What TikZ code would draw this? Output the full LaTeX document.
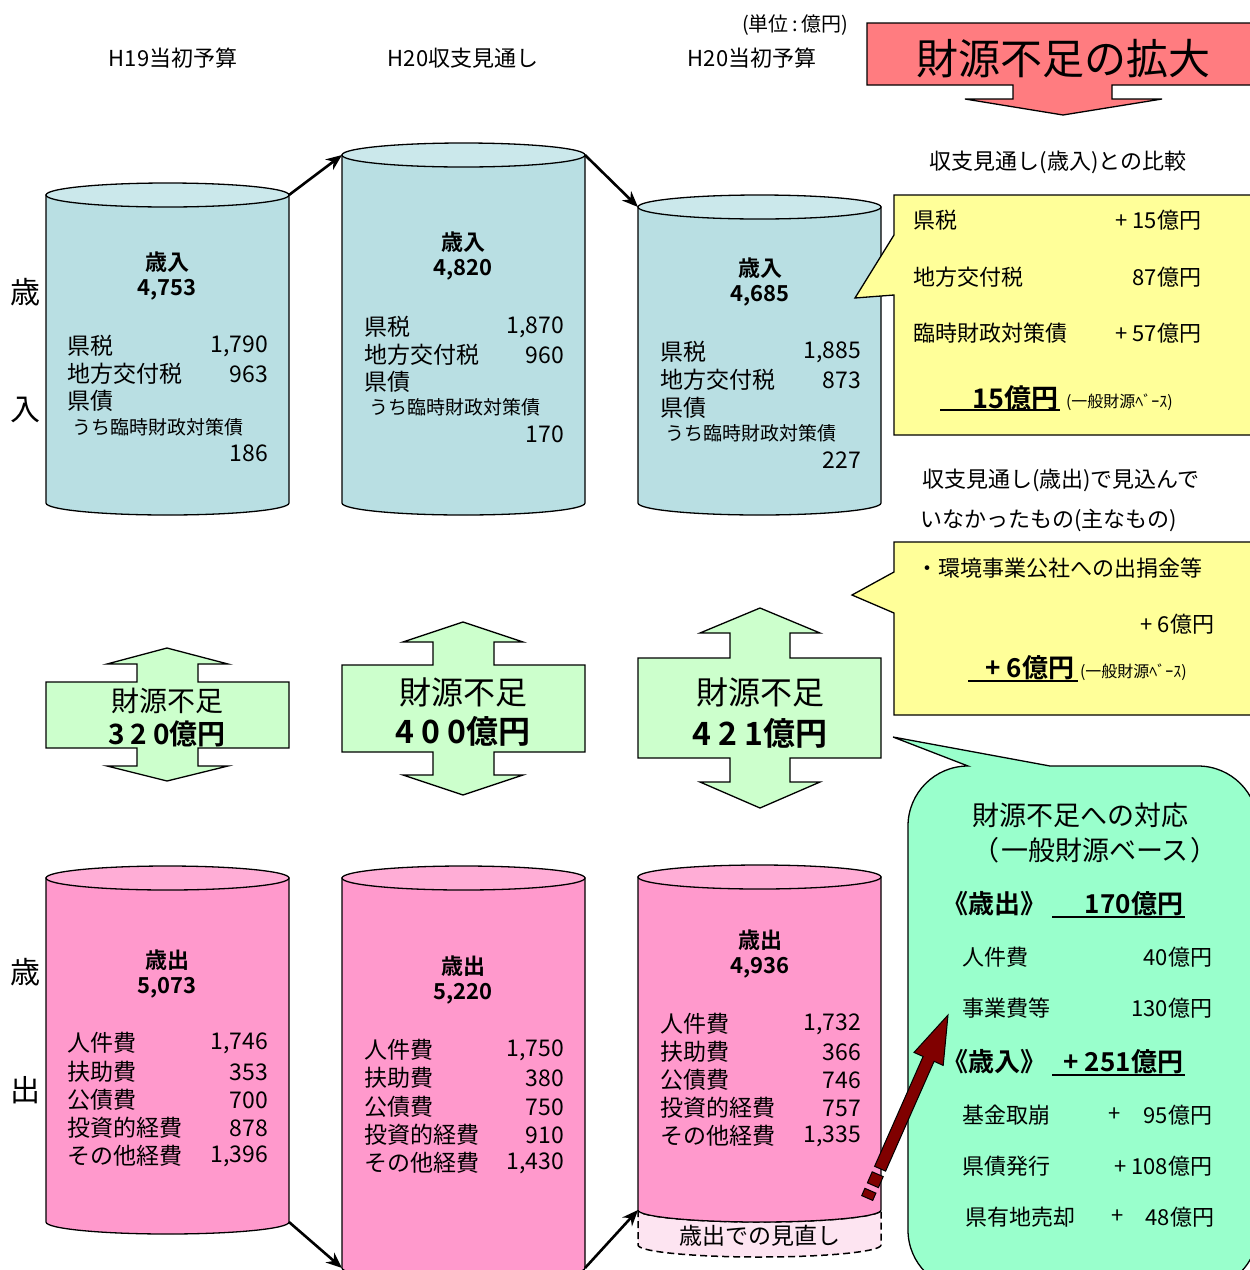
\documentclass[tikz,border=0pt]{standalone}
\usepackage{fontspec}
\setmainfont{Noto Sans CJK JP}[BoldFont={Noto Sans CJK JP Bold}]
\usetikzlibrary{arrows.meta}
\definecolor{cylblue}{HTML}{B9DFE3}
\definecolor{cylbluetop}{HTML}{CBE8EB}
\definecolor{cylpink}{HTML}{FF99CC}
\definecolor{cylpinktop}{HTML}{FFADD6}
\definecolor{lgreen}{HTML}{CCFFCC}
\definecolor{lyellow}{HTML}{FFFF99}
\definecolor{mgreen}{HTML}{99FFCC}
\definecolor{banred}{HTML}{FF7C80}
\definecolor{arrowred}{HTML}{800000}
\definecolor{palepink}{HTML}{FDE4F1}
\newcommand\drawcyl[6]{%
  \pgfmathsetmacro\cylrx{(#2-#1)/2}%
  \draw[ln, fill=#5] (#1,#3) -- (#1,#4) arc[start angle=180,end angle=360,x radius=\cylrx pt,y radius=12pt] -- (#2,#3) -- cycle;
  \draw[ln, fill=#6] ({(#1+#2)/2},#3) ellipse[x radius=\cylrx pt, y radius=12pt];
}
\begin{document}
\begin{tikzpicture}[x=1pt,y=-1pt,
  fs/.style={font=\fontsize{#1}{#1}\selectfont},
  bfs/.style={font=\fontsize{#1}{#1}\selectfont\bfseries},
  txt/.style={inner sep=0pt, outer sep=0pt},
  lt/.style={txt, anchor=west, fs=23},
  rt/.style={txt, anchor=east, fs=23},
  ct/.style={txt, anchor=center},
  ln/.style={draw=black, line width=1.3pt},
  flow/.style={-{Stealth[length=16pt,width=13pt]}, line width=2.6pt},
  uline/.style={line width=1.3pt},
]
\fill[white] (0,0) rectangle (1250,1270);
\useasboundingbox (0,0) rectangle (1250,1270);

% ---------- headers ----------
\node[ct, fs=22] (h1) at (173,58) {H19当初予算};
\node[ct, fs=22] (h2) at (463,58) {H20収支見通し};
\node[ct, fs=22] (h3) at (752,58) {H20当初予算};
\node[ct, fs=20] (unit) at (795,25) {(単位\,:\,億円)};
\node[ct, fs=30] (sa1) at (25,292) {歳};
\node[ct, fs=30] (sa2) at (25,410) {入};
\node[ct, fs=30] (so1) at (25,972) {歳};
\node[ct, fs=30] (so2) at (25,1090) {出};

% ---------- banner ----------
\draw[ln, fill=banred] (867,23) -- (1252,23) -- (1252,85) -- (1112,85) -- (1112,99) -- (1162,99) -- (1063,115) -- (965,99) -- (1013,99) -- (1013,85) -- (867,85) -- cycle;
\node[ct, fs=42] (banner) at (1063,59) {財源不足の拡大};

% ---------- revenue cylinders ----------
\drawcyl{46}{289}{195}{503}{cylblue}{cylbluetop}
\drawcyl{342}{585}{155}{503}{cylblue}{cylbluetop}
\drawcyl{638}{881}{207}{503}{cylblue}{cylbluetop}
\coordinate (c1tr) at (289,195);
\coordinate (c2tl) at (342,155);
\coordinate (c2tr) at (585,155);
\coordinate (c3tl) at (638,207);
\draw[flow] (c1tr) -- (c2tl);
\draw[flow] (c2tr) -- (c3tl);

% C1
\node[ct, bfs=22] (c1h) at (167,262) {歳入};
\node[ct, bfs=22] (c1v) at (167,290) {4,753};
\node[lt] (c1a) at (67,346) {県税};
\node[rt] (c1av) at (268,346) {1,790};
\node[lt] (c1b) at (67,374) {地方交付税};
\node[rt] (c1bv) at (268,374) {963};
\node[lt] (c1c) at (67,401) {県債};
\node[lt, fs=19] (c1d) at (72,427) {うち臨時財政対策債};
\node[rt] (c1dv) at (268,453) {186};
% C2
\node[ct, bfs=22] (c2h) at (463,242) {歳入};
\node[ct, bfs=22] (c2v) at (463,270) {4,820};
\node[lt] (c2a) at (364,327) {県税};
\node[rt] (c2av) at (564,327) {1,870};
\node[lt] (c2b) at (364,355) {地方交付税};
\node[rt] (c2bv) at (564,355) {960};
\node[lt] (c2c) at (364,382) {県債};
\node[lt, fs=19] (c2d) at (369,407) {うち臨時財政対策債};
\node[rt] (c2dv) at (564,434) {170};
% C3
\node[ct, bfs=22] (c3h) at (760,268) {歳入};
\node[ct, bfs=22] (c3v) at (760,296) {4,685};
\node[lt] (c3a) at (660,352) {県税};
\node[rt] (c3av) at (861,352) {1,885};
\node[lt] (c3b) at (660,380) {地方交付税};
\node[rt] (c3bv) at (861,380) {873};
\node[lt] (c3c) at (660,408) {県債};
\node[lt, fs=19] (c3d) at (665,433) {うち臨時財政対策債};
\node[rt] (c3dv) at (861,460) {227};

% ---------- double arrows ----------
\draw[ln, fill=lgreen] (167,648) -- (228,664) -- (198,664) -- (198,682) -- (289,682) -- (289,748) -- (198,748) -- (198,766) -- (228,766) -- (167,781) -- (107,766) -- (137,766) -- (137,748) -- (46,748) -- (46,682) -- (137,682) -- (137,664) -- (107,664) -- cycle;
\node[ct, fs=28] (d1a) at (167,701) {財源不足};
\node[ct, bfs=28] (d1b) at (167,734) {3\hspace{6pt}2\hspace{6pt}0億円};

\draw[ln, fill=lgreen] (463,622) -- (523,642) -- (494,642) -- (494,665) -- (585,665) -- (585,752) -- (494,752) -- (494,775) -- (523,775) -- (463,795) -- (403,775) -- (433,775) -- (433,752) -- (342,752) -- (342,665) -- (433,665) -- (433,642) -- (403,642) -- cycle;
\node[ct, fs=32] (d2a) at (463,692) {財源不足};
\node[ct, bfs=32] (d2b) at (463,731) {4\hspace{7pt}0\hspace{7pt}0億円};

\draw[ln, fill=lgreen] (760,608) -- (820,633) -- (790,633) -- (790,658) -- (881,658) -- (881,758) -- (790,758) -- (790,782) -- (820,782) -- (760,808) -- (700,782) -- (730,782) -- (730,758) -- (638,758) -- (638,658) -- (730,658) -- (730,633) -- (700,633) -- cycle;
\node[ct, fs=32] (d3a) at (760,692) {財源不足};
\node[ct, bfs=32] (d3b) at (760,733) {4\hspace{7pt}2\hspace{7pt}1億円};

% ---------- expenditure cylinders ----------
\draw[line width=1.5pt, dash pattern=on 7pt off 4pt, fill=palepink] (638,1210) -- (638,1245) arc[start angle=180,end angle=360,x radius=121.5pt,y radius=12pt] -- (881,1210) arc[start angle=0,end angle=-180,x radius=121.5pt,y radius=12pt] -- cycle;
\drawcyl{46}{289}{878}{1222}{cylpink}{cylpinktop}
\drawcyl{342}{585}{878}{1268}{cylpink}{cylpinktop}
\drawcyl{638}{881}{877}{1210}{cylpink}{cylpinktop}
\node[ct, fs=23] (minaoshi) at (760,1236) {歳出での見直し};
\coordinate (p1br) at (289,1222);
\coordinate (p2bl) at (342,1268);
\coordinate (p2br) at (585,1268);
\coordinate (p3bl) at (638,1210);
\draw[flow] (p1br) -- (p2bl);
\draw[flow] (p2br) -- (p3bl);

% P1
\node[ct, bfs=22] (p1h) at (167,960) {歳出};
\node[ct, bfs=22] (p1v) at (167,988) {5,073};
\foreach \i/\y/\lab/\val in {a/1043/人件費/{1,746}, b/1072/扶助費/353, c/1100/公債費/700, d/1128/投資的経費/878, e/1156/その他経費/{1,396}}{
  \node[lt] (p1\i) at (67,\y) {\lab};
  \node[rt] (p1\i v) at (268,\y) {\val};
}
% P2
\node[ct, bfs=22] (p2h) at (463,966) {歳出};
\node[ct, bfs=22] (p2v) at (463,994) {5,220};
\foreach \i/\y/\lab/\val in {a/1050/人件費/{1,750}, b/1078/扶助費/380, c/1107/公債費/750, d/1135/投資的経費/910, e/1163/その他経費/{1,430}}{
  \node[lt] (p2\i) at (364,\y) {\lab};
  \node[rt] (p2\i v) at (564,\y) {\val};
}
% P3
\node[ct, bfs=22] (p3h) at (760,940) {歳出};
\node[ct, bfs=22] (p3v) at (760,968) {4,936};
\foreach \i/\y/\lab/\val in {a/1024/人件費/{1,732}, b/1052/扶助費/366, c/1080/公債費/746, d/1108/投資的経費/757, e/1136/その他経費/{1,335}}{
  \node[lt] (p3\i) at (660,\y) {\lab};
  \node[rt] (p3\i v) at (861,\y) {\val};
}

% ---------- yellow callout 1 ----------
\node[ct, fs=22] (cmp1) at (1058,162) {収支見通し(歳入)との比較};
\draw[ln, fill=lyellow] (894,195) -- (1252,195) -- (1252,435) -- (894,435) -- (894,295) -- (855,298) -- (894,235) -- cycle;
\node[lt, fs=22] (y1a) at (913,220) {県税};
\node[rt, fs=22] (y1av) at (1201,220) {+ 15億円};
\node[lt, fs=22] (y1b) at (913,277) {地方交付税};
\node[rt, fs=22] (y1bv) at (1201,277) {87億円};
\node[lt, fs=22] (y1c) at (913,333) {臨時財政対策債};
\node[rt, fs=22] (y1cv) at (1201,333) {+ 57億円};
\node[txt, anchor=east, bfs=27] (y1t) at (1058,398) {15億円};
\node[txt, anchor=west, fs=16] (y1s) at (1066,402) {(一般財源ﾍﾞｰｽ)};
\coordinate (u1a) at (940,410);
\coordinate (u1b) at (1060,410);
\draw[uline] (u1a) -- (u1b);

% ---------- yellow callout 2 ----------
\node[lt, fs=22] (cmp2a) at (922,480) {収支見通し(歳出)で見込んで};
\node[lt, fs=22] (cmp2b) at (920,520) {いなかったもの(主なもの)};
\draw[ln, fill=lyellow] (894,542) -- (1252,542) -- (1252,715) -- (894,715) -- (894,613) -- (852,595) -- (894,572) -- cycle;
\node[lt, fs=22] (y2a) at (916,568) {・環境事業公社への出捐金等};
\node[rt, fs=22] (y2av) at (1214,624) {+ 6億円};
\node[txt, anchor=east, bfs=26] (y2t) at (1074,668) {+ 6億円};
\node[txt, anchor=west, fs=16] (y2s) at (1080,672) {(一般財源ﾍﾞｰｽ)};
\coordinate (u2a) at (968,681);
\coordinate (u2b) at (1078,681);
\draw[uline] (u2a) -- (u2b);

% ---------- green callout ----------
\draw[ln, fill=mgreen] (908,1230) -- (908,826) arc[start angle=180,end angle=90,radius=60pt] -- (893,737) -- (1050,766) -- (1198,766) arc[start angle=90,end angle=0,radius=60pt] -- (1258,1230) arc[start angle=0,end angle=-90,radius=60pt] -- (968,1290) arc[start angle=270,end angle=180,radius=60pt] -- cycle;
\node[ct, fs=27] (g1) at (1080,815) {財源不足への対応};
\node[ct, fs=27] (g2) at (1095,850) {（\hspace{2pt}一般財源ベース\hspace{2pt}）};
\node[txt, anchor=west, bfs=26] (g3) at (942,904) {《歳出》};
\node[txt, anchor=east, bfs=26] (g3v) at (1183,904) {170億円};
\coordinate (u3a) at (1052,917);
\coordinate (u3b) at (1185,917);
\draw[uline] (u3a) -- (u3b);
\node[lt, fs=22] (g4) at (962,957) {人件費};
\node[rt, fs=22] (g4v) at (1212,957) {40億円};
\node[lt, fs=22] (g5) at (962,1008) {事業費等};
\node[rt, fs=22] (g5v) at (1212,1008) {130億円};
\node[txt, anchor=west, bfs=26] (g6) at (942,1062) {《歳入》};
\node[txt, anchor=east, bfs=26] (g6v) at (1183,1062) {+ 251億円};
\coordinate (u4a) at (1052,1075);
\coordinate (u4b) at (1185,1075);
\draw[uline] (u4a) -- (u4b);
\node[lt, fs=22] (g7) at (962,1115) {基金取崩};
\node[lt, fs=22] (g7p) at (1108,1115) {+};
\node[rt, fs=22] (g7v) at (1212,1115) {95億円};
\node[lt, fs=22] (g8) at (962,1166) {県債発行};
\node[rt, fs=22] (g8v) at (1212,1166) {+ 108億円};
\node[lt, fs=22] (g9) at (965,1217) {県有地売却};
\node[lt, fs=22] (g9p) at (1111,1217) {+};
\node[rt, fs=22] (g9v) at (1214,1217) {48億円};

% ---------- dark red arrow ----------
\draw[line width=1pt, fill=arrowred] (948,1015) -- (943.2,1065.4) -- (934.1,1061.3) -- (885.6,1171.1) -- (874.6,1166.3) -- (923.1,1056.5) -- (914.0,1052.4) -- cycle;
\draw[line width=1pt, fill=arrowred] (883.2,1176.6) -- (872.2,1171.8) -- (867.4,1182.8) -- (878.4,1187.6) -- cycle;
\draw[line width=1pt, fill=arrowred] (875.9,1193.1) -- (864.9,1188.3) -- (861.7,1195.6) -- (872.7,1200.4) -- cycle;
\end{tikzpicture}
\end{document}
